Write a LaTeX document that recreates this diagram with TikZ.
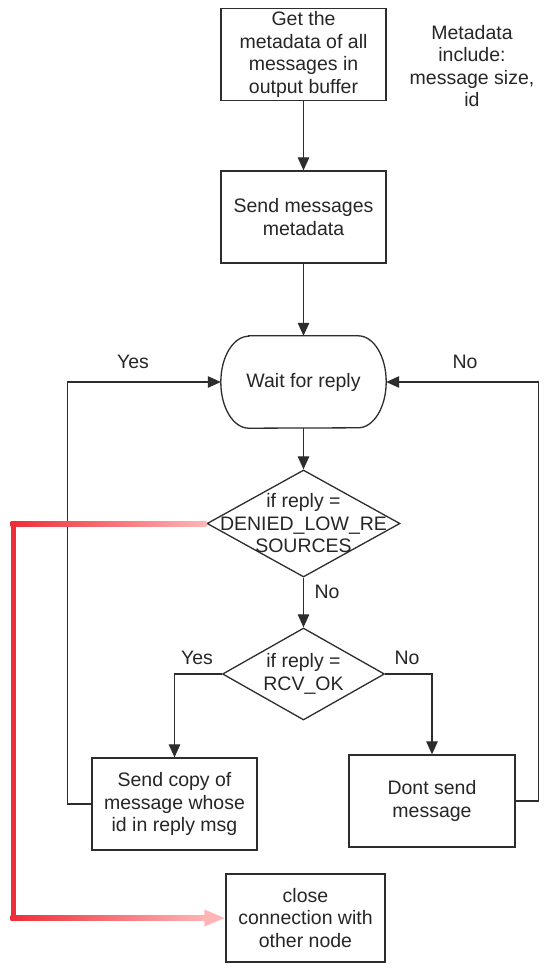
\documentclass[tikz,border=0pt]{standalone}
\usepackage{fontspec}
\setmainfont{Liberation Sans}
\usetikzlibrary{arrows.meta,shapes.geometric,calc}
\definecolor{linec}{RGB}{45,45,45}
\definecolor{redA}{RGB}{238,45,55}
\definecolor{pinkA}{RGB}{255,180,182}
\begin{document}
\begin{tikzpicture}[x=1pt,y=1pt,
  box/.style={draw=linec, line width=1.3pt, minimum width=165pt, minimum height=92pt, align=center, inner sep=0pt, font=\fontsize{19.5}{22.5}\selectfont, text=black!85},
  txt/.style={align=center, font=\fontsize{19.5}{22.5}\selectfont, inner sep=0pt, text=black!85},
  dia/.style={draw=linec, line width=1.3pt, diamond, inner sep=0pt},
  arr/.style={draw=linec, line width=1.2pt, -{Triangle[length=13pt,width=11.5pt]}},
  ln/.style={draw=linec, line width=1.2pt}]
\useasboundingbox[fill=white] (0,0) rectangle (550,-974);

\node[box] (b1) at (303.5,-54.5) {Get the\\metadata of all\\messages in\\output buffer};
\node[txt] (note) at (472,-66) {Metadata\\include:\\message size,\\id};
\node[box] (b2) at (303.5,-217) {Send messages\\metadata};
\node[txt, minimum width=165pt, minimum height=92pt] (wait) at (303.5,-382) {Wait for reply};
\draw[linec, line width=1.3pt] ($(wait.north west)+(28,0)$) -- ($(wait.north east)+(-28,0)$)
  arc[start angle=90,end angle=-90,x radius=28pt,y radius=46pt]
  -- ($(wait.south west)+(28,0)$)
  arc[start angle=270,end angle=90,x radius=28pt,y radius=46pt] -- cycle;

\node[dia, minimum width=193pt, minimum height=107pt] (d1) at (303.5,-523.5) {};
\node[txt] (d1t) at (d1.center) {if reply =\\DENIED\_LOW\_RE\\SOURCES};
\node[dia, minimum width=162pt, minimum height=92pt] (d2) at (303.5,-674) {};
\node[txt] (d2t) at (d2.center) {if reply =\\RCV\_OK};

\node[box, minimum width=165pt] (b3) at (174.5,-804) {Send copy of\\message whose\\id in reply msg};
\node[box, minimum width=166pt] (b4) at (432,-801) {Dont send\\message};
\node[box, minimum width=159pt, minimum height=88pt] (close) at (305.5,-918) {close\\connection with\\other node};

\draw[arr] (b1) -- (b2);
\draw[arr] (b2) -- (wait);
\draw[arr] (wait.south) -- (d1.north);
\draw[arr] (d1.south) -- (d2.north);
\draw[arr] (d2.west) -| (b3.north);
\draw[arr] (d2.east) -| (b4.north);
\draw[arr] (b3.west) -- ++(-24,0) |- (wait.west);
\draw[arr] (b4.east) -- ++(23,0) |- (wait.east);

\node[txt] (ly1) at (133,-362) {Yes};
\node[txt] (ln1) at (465,-362) {No};
\node[txt] (ln2) at (327,-592) {No};
\node[txt] (ly2) at (197,-658) {Yes};
\node[txt] (ln3) at (407,-658) {No};

\coordinate (cTop) at (13,-523.5);
\coordinate (cBot) at (13,-918);
\shade[left color=redA, right color=pinkA] ($(cTop)+(-2.5,2.5)$) rectangle ($(d1.west)+(0,-2.5)$);
\fill[redA] ($(cTop)+(-2.5,2.5)$) rectangle ($(cBot)+(2.5,-2.5)$);
\shade[left color=redA, right color=pinkA] ($(cBot)+(-2.5,2.5)$) rectangle ($(close.west)+(-20,-2.5)$);
\fill[pinkA] ($(close.west)+(-21,8.5)$) -- ($(close.west)+(-1,0)$) -- ($(close.west)+(-21,-8.5)$) -- cycle;
\end{tikzpicture}
\end{document}
